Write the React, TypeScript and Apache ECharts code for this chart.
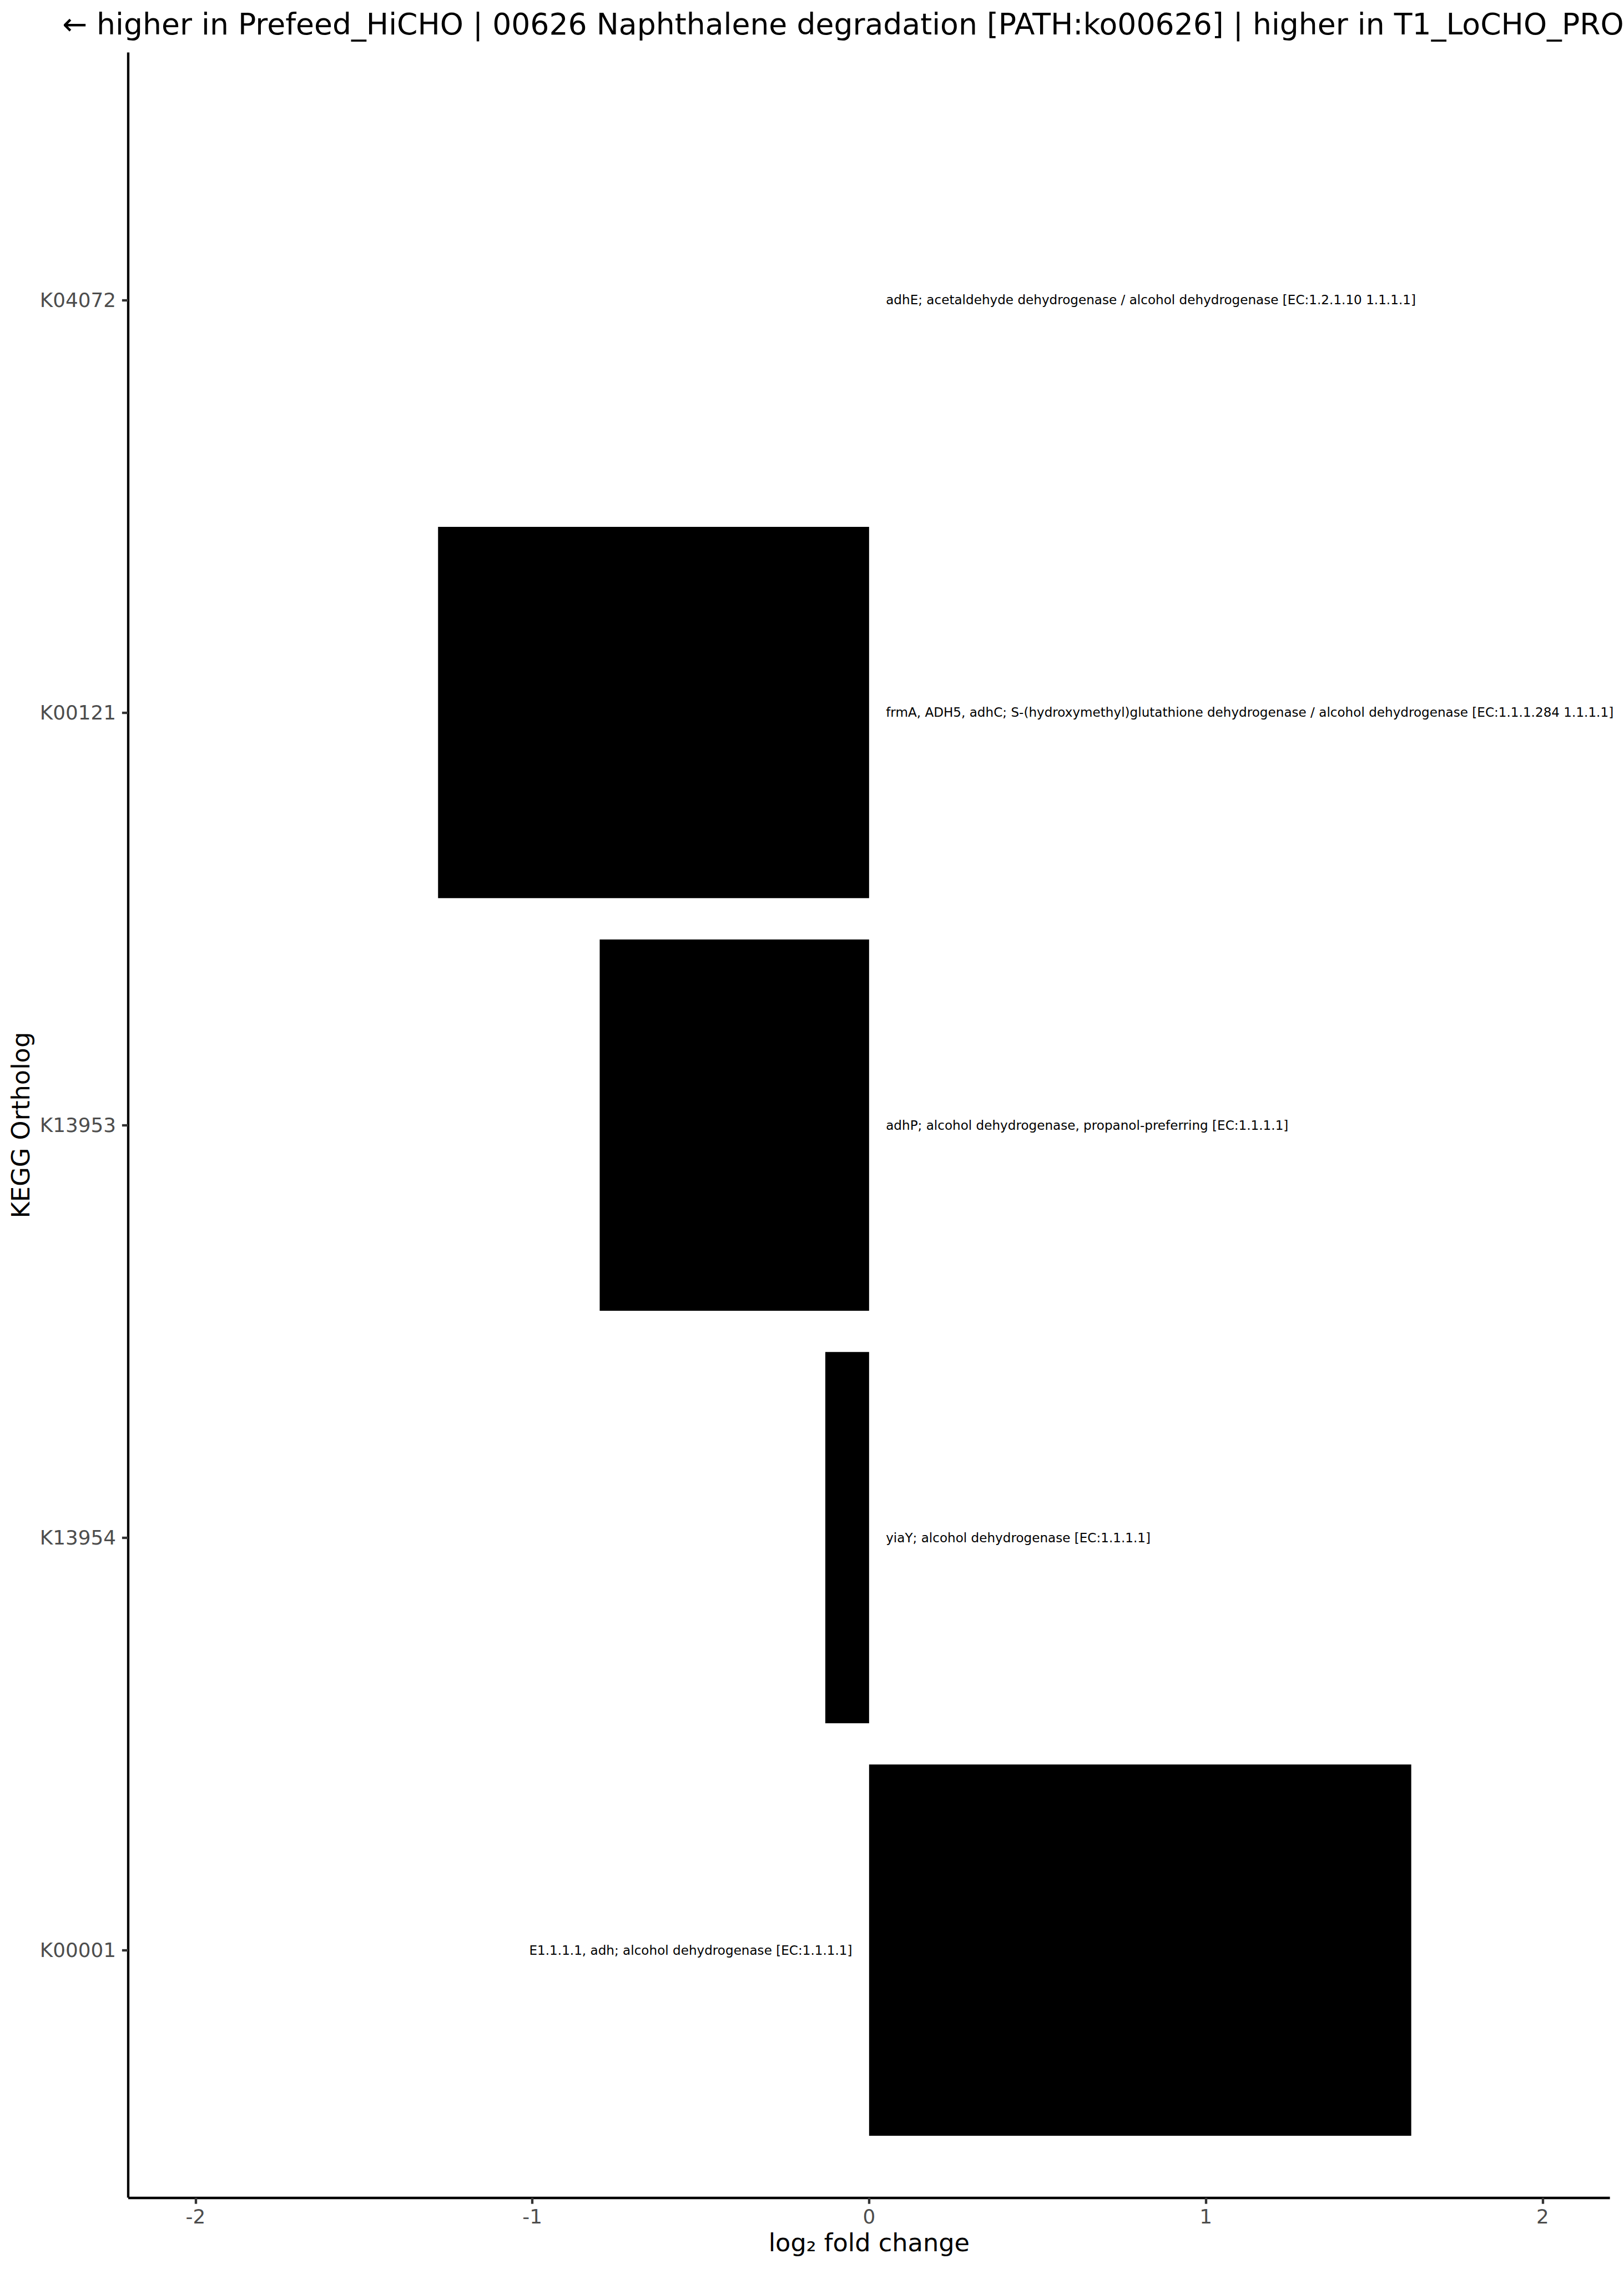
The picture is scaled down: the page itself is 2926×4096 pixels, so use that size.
import React, { useEffect, useRef } from "react";
import * as echarts from "echarts";

// Categories listed bottom to top (ggplot order)
const categories = ["K00001", "K13954", "K13953", "K00121", "K04072"];
const log2fc = [1.61, -0.13, -0.8, -1.28, 0];
const descriptions = [
  "E1.1.1.1, adh; alcohol dehydrogenase [EC:1.1.1.1]",
  "yiaY; alcohol dehydrogenase [EC:1.1.1.1]",
  "adhP; alcohol dehydrogenase, propanol-preferring [EC:1.1.1.1]",
  "frmA, ADH5, adhC; S-(hydroxymethyl)glutathione dehydrogenase / alcohol dehydrogenase [EC:1.1.1.284 1.1.1.1]",
  "adhE; acetaldehyde dehydrogenase / alcohol dehydrogenase [EC:1.2.1.10 1.1.1.1]",
];
const xTicks = [-2, -1, 0, 1, 2];
const yTicks = [1, 2, 3, 4, 5];
const titleText =
  "← higher in Prefeed_HiCHO | 00626 Naphthalene degradation [PATH:ko00626] | higher in T1_LoCHO_PRO";
const xAxisTitle = "log₂ fold change";
const yAxisTitle = "KEGG Ortholog";

const S = 0.975;
const W = 2926;
const H = 4096;
const FONT = "DejaVu Sans";

export default function App() {
  const ref = useRef<HTMLDivElement>(null);
  useEffect(() => {
    document.body.style.margin = "0";
    const chart = echarts.init(ref.current!, null, { renderer: "svg" });
    const lw = 4.45 * S;
    const option: any = {
      animation: false,
      backgroundColor: "#ffffff",
      title: {
        text: titleText,
        left: 115 * S,
        top: 16,
        padding: 0,
        textStyle: {
          fontFamily: FONT,
          fontSize: 55 * S,
          fontWeight: "normal",
          color: "#000000",
        },
      },
      grid: {
        left: 237 * S,
        right: W - 2975 * S,
        top: 97 * S,
        bottom: H - 4060 * S,
        containLabel: false,
        outerBoundsMode: "none",
      },
      xAxis: {
        type: "value",
        min: -2.2,
        max: 2.2,
        name: xAxisTitle,
        nameLocation: "middle",
        nameGap: 59,
        nameTextStyle: { fontFamily: FONT, fontSize: 45.8 * S, color: "#000000" },
        axisLine: { show: true, onZero: false, lineStyle: { color: "#000000", width: lw, cap: "butt" } },
        axisTick: { show: true, customValues: xTicks, length: 11.46 * S, lineStyle: { color: "#333333", width: lw } },
        axisLabel: {
          customValues: xTicks,
          margin: 15.6,
          fontFamily: FONT,
          fontSize: 36.7 * S,
          color: "#4D4D4D",
          formatter: (v: number) => String(v),
        },
        splitLine: { show: false },
      },
      yAxis: {
        type: "value",
        min: 0.4,
        max: 5.6,
        name: yAxisTitle,
        nameLocation: "middle",
        nameRotate: 90,
        nameGap: 170,
        nameTextStyle: { fontFamily: FONT, fontSize: 45.8 * S, color: "#000000" },
        axisLine: { show: true, onZero: false, lineStyle: { color: "#000000", width: lw, cap: "butt" } },
        axisTick: { show: true, customValues: yTicks, length: 11.46 * S, lineStyle: { color: "#333333", width: lw } },
        axisLabel: {
          customValues: yTicks,
          margin: 22,
          fontFamily: FONT,
          fontSize: 36.7 * S,
          color: "#4D4D4D",
          formatter: (v: number) => categories[Math.round(v) - 1] ?? "",
        },
        splitLine: { show: false },
      },
      series: [
        {
          type: "custom",
          clip: false,
          encode: { x: 0, y: 1 },
          data: categories.map((c, i) => [log2fc[i], i + 1]),
          renderItem: (params: any, api: any) => {
            const v = api.value(0);
            const idx = api.value(1);
            const p0 = api.coord([0, idx + 0.45]);
            const p1 = api.coord([v, idx - 0.45]);
            const x = Math.min(p0[0], p1[0]);
            const w = Math.abs(p1[0] - p0[0]);
            const lp = api.coord([v > 0 ? -0.05 : 0.05, idx]);
            return {
              type: "group",
              children: [
                {
                  type: "rect",
                  shape: { x, y: p0[1], width: w, height: p1[1] - p0[1] },
                  style: { fill: "#000000" },
                },
                {
                  type: "text",
                  x: lp[0],
                  y: lp[1],
                  style: {
                    text: descriptions[params.dataIndex],
                    fill: "#000000",
                    fontFamily: FONT,
                    fontSize: 23.7 * S,
                    align: v > 0 ? "right" : "left",
                    verticalAlign: "middle",
                  },
                },
              ],
            };
          },
        },
      ],
    };
    chart.setOption(option);
    return () => chart.dispose();
  }, []);
  return (
    <div
      ref={ref}
      style={{ position: "absolute", left: 0, top: 0, width: W, height: H, background: "#fff" }}
    />
  );
}
